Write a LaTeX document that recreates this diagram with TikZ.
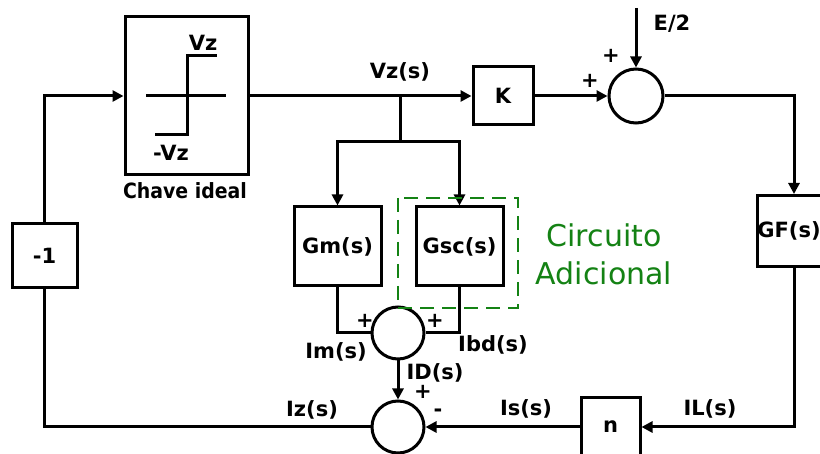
\documentclass[tikz,border=0pt]{standalone}
\usepackage{fontspec}
\setmainfont{DejaVu Sans}
\newfontfamily\narrowbf[FakeStretch=0.9]{DejaVu Sans Bold}
\usetikzlibrary{arrows.meta}
\definecolor{cgreen}{RGB}{20,130,20}
\begin{document}
\begin{tikzpicture}[x=1pt,y=-1pt,
  lbl/.style={font=\bfseries\fontsize{21}{24}\selectfont, inner sep=0pt},
  blk/.style={draw, line width=3pt, inner sep=0pt, font=\bfseries\fontsize{21}{24}\selectfont},
  sumc/.style={draw, circle, line width=3pt, inner sep=0pt},
  wire/.style={line width=3pt},
  arr/.style={line width=3pt, -{Triangle[length=11pt,width=11pt]}},
  grn/.style={font=\fontsize{30}{34}\selectfont, text=cgreen, inner sep=0pt}]
\useasboundingbox (0,0) rectangle (820,454);
% blocks
\node[blk, minimum width=123pt, minimum height=158pt] (chave) at (186.5,96) {};
\node[blk, minimum width=60pt, minimum height=58pt] (K) at (503,96) {K};
\node[blk, minimum width=65pt, minimum height=64pt] (m1) at (44.5,256) {-1};
\node[blk, minimum width=87pt, minimum height=79pt] (Gm) at (337.5,246.5) {Gm(s)};
\node[blk, minimum width=87pt, minimum height=79pt] (Gsc) at (459.5,246.5) {Gsc(s)};
\node[blk, minimum width=74pt, minimum height=71pt] (GF) at (794,231) {};
\node[lbl] (GFt) at (789,231) {GF(s)};
\node[blk, minimum width=59pt, minimum height=58pt] (n) at (610.5,427) {n};
% summers
\node[sumc, minimum size=54pt] (s1) at (636,96) {};
\node[sumc, minimum size=52pt] (s2) at (398,333) {};
\node[sumc, minimum size=52pt] (s3) at (398,427) {};
% ideal switch characteristic
\draw[wire] (146,96) -- (226,96);
\draw[wire] (155,135) -- (187,135) -- (187,56) -- (217,56);
\node[lbl] (vzp) at (203,43) {Vz};
\node[lbl] (vzn) at (171,153) {-Vz};
\node[inner sep=0pt, font=\narrowbf\fontsize{21}{24}\selectfont] (chl) at (185,191) {Chave ideal};
% coordinates
\coordinate (br) at (400,96);
\coordinate (bh) at (400,142);
\coordinate (ein) at (636,8);
% connectors
\draw[arr] (chave.east) -- (K.west);
\draw[wire] (br) -- (bh);
\draw[arr] (bh) -| (Gm.north);
\draw[arr] (bh) -| (Gsc.north);
\draw[arr] (K.east) -- (s1.west);
\draw[arr] (ein) -- (s1.north);
\draw[arr] (s1.east) -| (GF.north);
\draw[arr] (GF.south) |- (n.east);
\draw[arr] (n.west) -- (s3.east);
\draw[wire] (s3.west) -| (m1.south);
\draw[arr] (m1.north) |- (chave.west);
\draw[wire] (Gm.south) |- (s2.west);
\draw[wire] (Gsc.south) |- (s2.east);
\draw[arr] (s2.south) -- (s3.north);
% dashed box
\draw[cgreen, line width=2.8pt, dash pattern=on 14pt off 8pt] (398,198) rectangle (518,308);
\node[grn] (c1) at (604,235) {Circuito};
\node[grn] (c2) at (604,273) {Adicional};
% labels
\node[lbl] (lvz) at (400,72) {Vz(s)};
\node[lbl] (le2) at (672,24) {E/2};
\node[lbl] (p1) at (611,56) {+};
\node[lbl] (p2) at (590,81) {+};
\node[lbl] (lim) at (336,352) {Im(s)};
\node[lbl] (libd) at (493,345) {Ibd(s)};
\node[lbl] (lid) at (435,373) {ID(s)};
\node[lbl] (p3) at (365,321) {+};
\node[lbl] (p4) at (435,321) {+};
\node[lbl] (p5) at (423,392) {+};
\node[lbl] (m5) at (438,413) {-};
\node[lbl] (liz) at (312,410) {Iz(s)};
\node[lbl] (lis) at (526,409) {Is(s)};
\node[lbl] (lil) at (710,409) {IL(s)};
\end{tikzpicture}
\end{document}
